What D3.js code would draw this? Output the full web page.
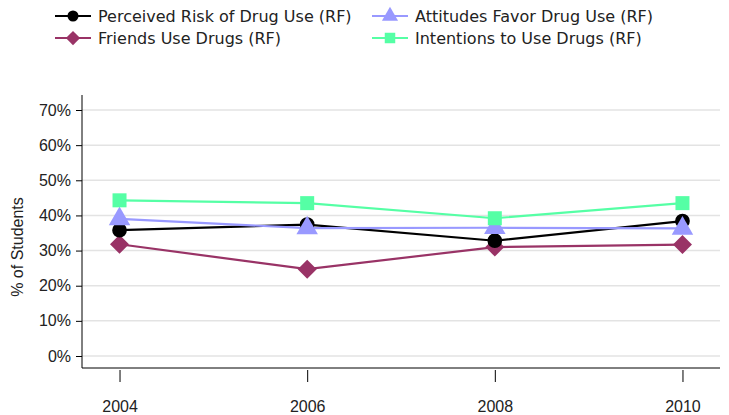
<!DOCTYPE html>
<html>
<head>
<meta charset="utf-8">
<script src="https://cdn.jsdelivr.net/npm/d3@7"></script>
<style>
  body { margin: 0; background: #fff; }
  svg { display: block; }
</style>
</head>
<body>
<script>
var width = 729,
    height = 415;

var years = ["2004", "2006", "2008", "2010"];
var yTicks = [0, 10, 20, 30, 40, 50, 60, 70];

var seriesNames = ["Perceived Risk of Drug Use (RF)", "Attitudes Favor Drug Use (RF)",
                   "Friends Use Drugs (RF)", "Intentions to Use Drugs (RF)"];
var perceivedRisk = [35.8, 37.4, 32.8, 38.4];
var attitudesFavor = [39.0, 36.4, 36.5, 36.3];
var friendsUse = [31.8, 24.7, 31.0, 31.7];
var intentions = [44.3, 43.5, 39.2, 43.5];

var colors = ["#000000", "#9999ff", "#993366", "#55ffa5"];
var seriesValues = [perceivedRisk, attitudesFavor, friendsUse, intentions];

var axisFont = "'Liberation Sans', Arial, sans-serif";
var legendFont = "'DejaVu Sans', Verdana, sans-serif";

var plotLeft = 82, plotRight = 720, plotTop = 95, plotBottom = 368;

var xScale = d3.scalePoint()
    .domain(years)
    .range([plotLeft, plotRight])
    .padding(0.2);

var yScale = d3.scaleLinear()
    .domain([0, 70])
    .range([356, 110]);

// marker shapes, k = scale factor
function marker(s, k) {
    if (s === 0) return d3.symbol().type(d3.symbolCircle).size(170 * k * k)();
    if (s === 1) return d3.symbol().type(d3.symbolTriangle).size(200 * k * k)();
    if (s === 2) {
        var r = 9.5 * k;
        return "M0," + (-r) + "L" + r + ",0L0," + r + "L" + (-r) + ",0Z";
    }
    var h = 7 * k;
    return "M" + (-h) + "," + (-h) + "H" + h + "V" + h + "H" + (-h) + "Z";
}

var svg = d3.select("body")
    .append("svg")
    .attr("width", width)
    .attr("height", height);

// gridlines
svg.append("g")
    .selectAll("line")
    .data(yTicks)
    .enter()
    .append("line")
    .attr("x1", plotLeft)
    .attr("x2", plotRight)
    .attr("y1", function(d) { return yScale(d); })
    .attr("y2", function(d) { return yScale(d); })
    .attr("stroke", "#e3e3e3")
    .attr("stroke-width", 1.5);

// axes
var yAxis = d3.axisLeft(yScale)
    .tickValues(yTicks)
    .tickSize(6)
    .tickPadding(5)
    .tickFormat(function(d) { return d + "%"; });

var gy = svg.append("g")
    .attr("transform", "translate(" + plotLeft + ",0)")
    .call(yAxis)
    .attr("font-family", axisFont)
    .attr("font-size", 16);
gy.select(".domain").remove();
gy.selectAll("text").attr("fill", "#222");
gy.append("line")
    .attr("x1", 0).attr("x2", 0)
    .attr("y1", plotTop).attr("y2", plotBottom)
    .attr("stroke", "#000");

var xAxis = d3.axisBottom(xScale)
    .tickSize(14)
    .tickPadding(19);

var gx = svg.append("g")
    .attr("transform", "translate(0," + plotBottom + ")")
    .call(xAxis)
    .attr("font-family", axisFont)
    .attr("font-size", 16);
gx.select(".domain").remove();
gx.selectAll("text").attr("fill", "#222");
gx.append("line")
    .attr("x1", plotLeft).attr("x2", plotRight)
    .attr("y1", 0).attr("y2", 0)
    .attr("stroke", "#000");
gx.selectAll(".tick line").attr("y1", 2);

svg.append("text")
    .attr("transform", "translate(23,247) rotate(-90)")
    .attr("text-anchor", "middle")
    .attr("font-family", axisFont)
    .attr("font-size", 16)
    .attr("fill", "#222")
    .text("% of Students");

// lines and markers
var line = d3.line()
    .x(function(d, i) { return xScale(years[i]); })
    .y(function(d) { return yScale(d); });

var drawOrder = [2, 0, 1, 3];
drawOrder.forEach(function(s) {
    svg.append("path")
        .datum(seriesValues[s])
        .attr("d", line)
        .attr("fill", "none")
        .attr("stroke", colors[s])
        .attr("stroke-width", 2.2);
});
drawOrder.forEach(function(s) {
    svg.append("g")
        .selectAll("path")
        .data(seriesValues[s])
        .enter()
        .append("path")
        .attr("transform", function(d, i) {
            return "translate(" + xScale(years[i]) + "," + yScale(d) + ")";
        })
        .attr("d", marker(s, 1))
        .attr("fill", colors[s]);
});

// legend
var legendPos = [[55, 16], [372, 16], [55, 38], [372, 38]];
var legend = svg.append("g")
    .attr("font-family", legendFont)
    .attr("font-size", 16);
seriesNames.forEach(function(name, s) {
    var g = legend.append("g")
        .attr("transform", "translate(" + legendPos[s][0] + "," + legendPos[s][1] + ")");
    g.append("line")
        .attr("x1", 0).attr("x2", 36)
        .attr("stroke", colors[s])
        .attr("stroke-width", 2);
    g.append("path")
        .attr("transform", "translate(18,0)")
        .attr("d", marker(s, 0.75))
        .attr("fill", colors[s]);
    g.append("text")
        .attr("x", 43)
        .attr("dy", "0.36em")
        .attr("fill", "#222")
        .text(name);
});
</script>
</body>
</html>
